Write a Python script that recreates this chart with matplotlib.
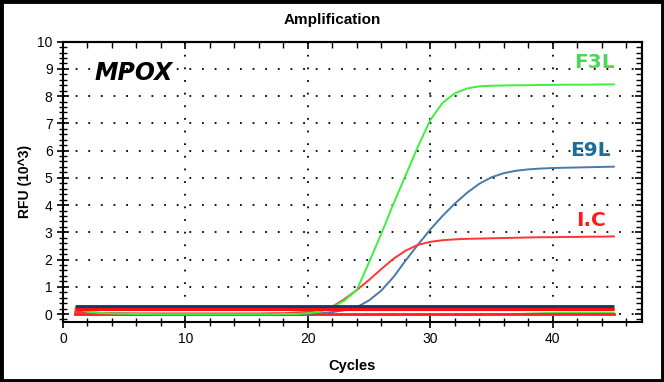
import matplotlib
matplotlib.use("Agg")
import matplotlib.pyplot as plt
from matplotlib.patches import Rectangle
from matplotlib.ticker import MultipleLocator

cycles = list(range(1, 46))

f3l = [0.20, 0.08, 0.04, 0.02, 0.01, 0.0, 0.0, -0.01, -0.01, -0.01,
       -0.01, -0.01, -0.01, -0.01, -0.01, -0.01, -0.01, 0.0, 0.0, 0.03,
       0.08, 0.25, 0.50, 0.88, 1.90, 2.95, 4.05, 5.10, 6.15, 7.12,
       7.75, 8.10, 8.28, 8.36, 8.38, 8.39, 8.40, 8.40, 8.41, 8.41,
       8.42, 8.42, 8.42, 8.43, 8.43]

e9l = [0.10, 0.06, 0.04, 0.03, 0.02, 0.01, 0.01, 0.0, 0.0, 0.0,
       0.0, 0.0, 0.0, 0.0, 0.0, 0.0, 0.0, 0.0, 0.0, 0.01,
       0.03, 0.07, 0.14, 0.25, 0.50, 0.86, 1.36, 1.97, 2.55, 3.10,
       3.60, 4.05, 4.45, 4.78, 5.02, 5.17, 5.26, 5.31, 5.34, 5.36,
       5.37, 5.38, 5.39, 5.40, 5.41]

ic = [0.05, 0.03, 0.02, 0.02, 0.02, 0.02, 0.02, 0.02, 0.02, 0.02,
      0.02, 0.02, 0.02, 0.02, 0.02, 0.02, 0.03, 0.03, 0.05, 0.08,
      0.15, 0.27, 0.55, 0.88, 1.25, 1.65, 2.03, 2.33, 2.54, 2.65,
      2.71, 2.74, 2.76, 2.77, 2.78, 2.79, 2.80, 2.81, 2.82, 2.82,
      2.83, 2.83, 2.84, 2.84, 2.85]

nc_red = [0.0] * 45
nc_green = [-0.03] * 34 + [-0.02, -0.01, 0.0, 0.02, 0.03, 0.04, 0.05, 0.05, 0.05, 0.05, 0.05]

threshold_blue = 0.27
threshold_red = 0.18

xticks = [0, 10, 20, 30, 40]
yticks = list(range(0, 11))

fig = plt.figure(figsize=(6.64, 3.82), dpi=100)
ax = fig.add_axes([0.0949, 0.158, 0.872, 0.733])

ax.plot(cycles, nc_green, color="#4de84d", lw=1.4)
ax.plot(cycles, nc_red, color="#ff2020", lw=2.0)
ax.plot(cycles, e9l, color="#4a78a8", lw=1.4)
ax.plot(cycles, ic, color="#ff3535", lw=1.4)
ax.plot(cycles, f3l, color="#3ef03e", lw=1.4)
ax.plot([cycles[0], cycles[-1]], [threshold_blue] * 2, color="#123a70", lw=3.5, solid_capstyle="butt")
ax.plot([cycles[0], cycles[-1]], [threshold_red] * 2, color="#ff1010", lw=2.2, solid_capstyle="butt")

ax.set_xlim(0, 47.3)
ax.set_ylim(-0.28, 10)
ax.set_xticks(xticks)
ax.set_yticks(yticks)
ax.xaxis.set_minor_locator(MultipleLocator(2))
ax.yaxis.set_minor_locator(MultipleLocator(0.2))

ax.tick_params(axis="both", which="major", direction="inout", length=8, width=1.2,
               labelsize=10)
ax.tick_params(axis="both", which="minor", direction="inout", length=6, width=1.0)
for sp in ax.spines.values():
    sp.set_linewidth(1.5)

top = ax.secondary_xaxis("top")
top.set_xticks(xticks)
top.xaxis.set_minor_locator(MultipleLocator(2))
top.tick_params(which="major", direction="in", length=5, width=1.2, labeltop=False)
top.tick_params(which="minor", direction="in", length=4, width=1.0)
right = ax.secondary_yaxis("right")
right.set_yticks(yticks)
right.yaxis.set_minor_locator(MultipleLocator(0.2))
right.tick_params(which="major", direction="in", length=5, width=1.2, labelright=False)
right.tick_params(which="minor", direction="in", length=4, width=1.0)
for s in (top, right):
    for sp in s.spines.values():
        sp.set_linewidth(1.5)

ax.grid(True, which="major", color="black", linestyle=(0, (1, 6)), linewidth=1.3)

fig.text(0.5, 0.947, "Amplification", fontsize=11, fontweight="bold",
         ha="center", va="center", family="Liberation Sans")
ax.set_xlabel("Cycles", fontsize=10.5, fontweight="bold", labelpad=9, family="Liberation Sans")
ax.set_ylabel("RFU (10^3)", fontsize=10, fontweight="bold", labelpad=4, family="Liberation Sans")
for lbl in ax.get_xticklabels() + ax.get_yticklabels():
    lbl.set_family("Liberation Sans")

ax.text(5.8, 8.85, "MPOX", fontsize=17, fontweight="bold", style="italic",
        ha="center", va="center", family="DejaVu Sans")
ax.text(43.4, 9.25, "F3L", fontsize=14.5, fontweight="bold", color="#4dd65a",
        ha="center", va="center", family="DejaVu Sans")
ax.text(43.1, 6.0, "E9L", fontsize=14.5, fontweight="bold", color="#1b6e9b",
        ha="center", va="center", family="DejaVu Sans")
ax.text(43.1, 3.42, "I.C", fontsize=14.5, fontweight="bold", color="#ff1a1a",
        ha="center", va="center", family="DejaVu Sans")

fig.patches.append(Rectangle((0.002, 0.003), 0.996, 0.994, transform=fig.transFigure,
                             fill=False, edgecolor="black", linewidth=3.5))

fig.savefig("out.png", dpi=100)
